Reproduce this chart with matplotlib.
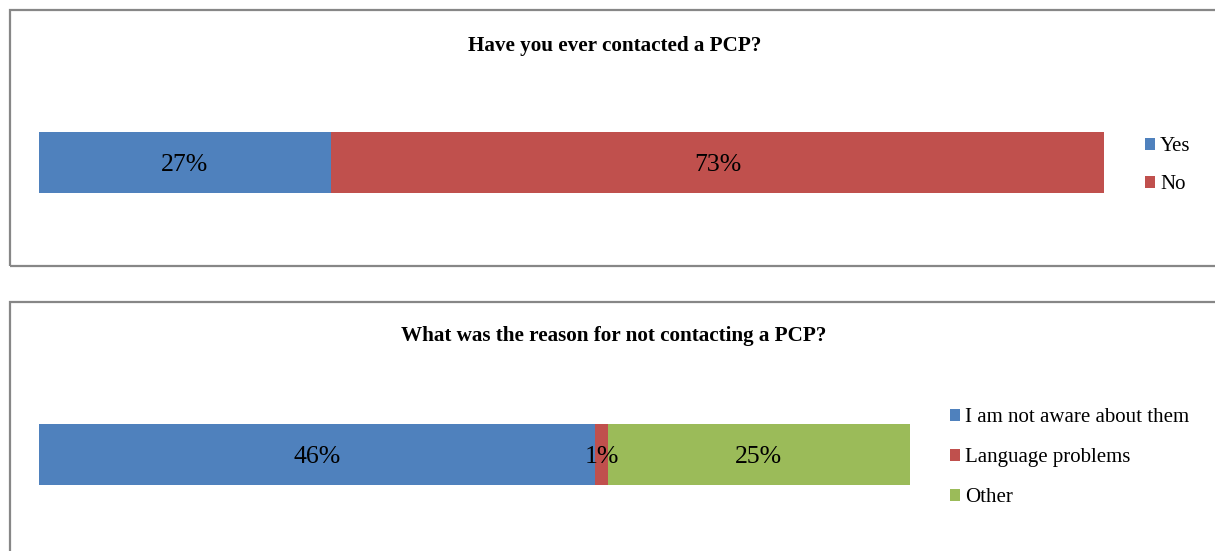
import matplotlib
matplotlib.use("Agg")
import matplotlib.pyplot as plt
from matplotlib.patches import Rectangle, Patch

plt.rcParams['font.family'] = ['Liberation Serif', 'DejaVu Serif']

# Data
title1 = "Have you ever contacted a PCP?"
cats1 = ["Yes", "No"]
vals1 = [27.4, 72.6]
title2 = "What was the reason for not contacting a PCP?"
cats2 = ["I am not aware about them", "Language problems", "Other"]
vals2 = [46, 1, 25]
colors = ["#4F81BD", "#C0504D", "#9BBB59"]

W, H = 1215, 551
fig = plt.figure(figsize=(W/100, H/100), dpi=100)

def fx(x): return x / W
def fy(y): return 1 - y / H

# panel borders
for (x0, y0, x1, y1) in [(10, 10, 1225, 266), (10, 302, 1225, 570)]:
    fig.patches.append(Rectangle((fx(x0), fy(y1)), fx(x1 - x0), (y1 - y0) / H,
                                 transform=fig.transFigure, fill=False,
                                 edgecolor="#878787", linewidth=1.6, clip_on=False))

def stacked(ax_box, cats, vals, xmax, legend_pos, spacing):
    x0, y0, x1, y1 = ax_box
    ax = fig.add_axes([fx(x0), fy(y1), fx(x1 - x0), (y1 - y0) / H])
    left = 0
    for c, v, col in zip(cats, vals, colors):
        ax.barh(0, v, left=left, height=1.0, color=col, edgecolor='none')
        ax.text(left + v / 2, 0, f"{v:.0f}%", ha='center', va='center_baseline',
                fontsize=18.5, color='black')
        left += v
    ax.set_xlim(0, xmax)
    ax.set_ylim(-0.5, 0.5)
    ax.axis('off')
    handles = [Patch(facecolor=col, edgecolor='none') for col in colors[:len(cats)]]
    fig.legend(handles, cats, loc='upper left', bbox_to_anchor=(fx(legend_pos[0]), fy(legend_pos[1])),
               frameon=False, fontsize=15, handlelength=0.5, handleheight=0.5,
               handletextpad=0.22, labelspacing=spacing, borderaxespad=0, borderpad=0)
    return ax

stacked((39, 132, 1104, 193), cats1, vals1, sum(vals1), (1145, 137), 0.92)
stacked((39, 424, 910, 485), cats2, vals2, sum(vals2), (950, 408), 1.01)

fig.text(fx(615), fy(51.5), title1, ha='center', va='baseline', fontsize=15.2, fontweight='bold')
fig.text(fx(614), fy(341.5), title2, ha='center', va='baseline', fontsize=15.2, fontweight='bold')

fig.savefig("out.png", dpi=100)
